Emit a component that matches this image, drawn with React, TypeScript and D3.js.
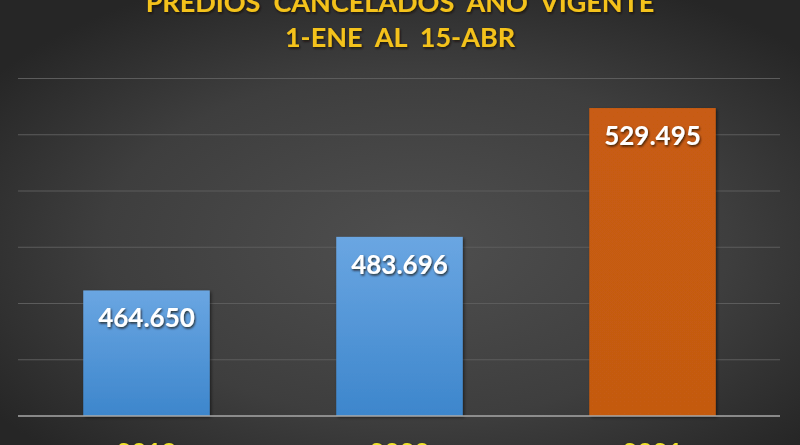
import React from "react";
import * as d3 from "d3";

const categories = ["2019", "2020", "2021"];
const values = [464650, 483696, 529495];
const barColors = ["blue", "blue", "orange"];
const yTicks = [420000, 440000, 460000, 480000, 500000, 520000, 540000];
const titleLines = ["PREDIOS  CANCELADOS  AÑO  VIGENTE", "1-ENE  AL  15-ABR"];

const W = 800;
const H = 445;

const locale = d3.formatLocale({ decimal: ",", thousands: ".", grouping: [3], currency: ["", ""] });
const fmt = locale.format(",d");

export default function App() {
  const x = d3.scaleBand<string>().domain(categories).range([20, 779]).paddingInner(0.5).paddingOuter(0.25);
  const y = d3.scaleLinear().domain([420000, 540000]).range([416, 78.5]);
  const font = "Lato, 'Open Sans', sans-serif";

  return (
    <svg width={W} height={H} style={{ position: "absolute", left: 0, top: 0, display: "block" }}>
      <defs>
        <radialGradient id="bg" cx="52%" cy="55%" r="65%">
          <stop offset="0%" stopColor="#4f4f4f" />
          <stop offset="60%" stopColor="#3e3e3e" />
          <stop offset="100%" stopColor="#262626" />
        </radialGradient>
        <linearGradient id="blue" x1="0" y1="0" x2="0" y2="1">
          <stop offset="0%" stopColor="#6aa6e2" />
          <stop offset="100%" stopColor="#3d86cc" />
        </linearGradient>
        <linearGradient id="orange" x1="0" y1="0" x2="0" y2="1">
          <stop offset="0%" stopColor="#c85c12" />
          <stop offset="100%" stopColor="#c45a11" />
        </linearGradient>
        <filter id="shadow" x="-10%" y="-10%" width="130%" height="130%">
          <feDropShadow dx="1.5" dy="1.5" stdDeviation="1.5" floodColor="#000" floodOpacity="0.5" />
        </filter>
        <filter id="tshadow" x="-10%" y="-30%" width="120%" height="160%">
          <feDropShadow dx="1" dy="1.5" stdDeviation="1" floodColor="#1a1000" floodOpacity="0.8" />
        </filter>
      </defs>
      <rect x={0} y={0} width={W} height={H} fill="url(#bg)" />
      {yTicks.slice(1).map((t) => (
        <line key={t} x1={18} x2={780} y1={y(t)} y2={y(t)} stroke="#5c5c5c" strokeWidth={1.2} />
      ))}
      {categories.map((c, i) => (
        <rect
          key={c}
          x={x(c)}
          y={y(values[i])}
          width={x.bandwidth()}
          height={y(yTicks[0]) - y(values[i])}
          fill={`url(#${barColors[i]})`}
          filter="url(#shadow)"
        />
      ))}
      <line x1={18} x2={780} y1={y(yTicks[0])} y2={y(yTicks[0])} stroke="#a8a8a8" strokeWidth={1.5} />
      {categories.map((c, i) => (
        <text
          key={c}
          x={(x(c) as number) + x.bandwidth() / 2}
          y={y(values[i]) + 37}
          textAnchor="middle"
          fontFamily={font}
          fontWeight="bold"
          fontSize={26}
          fill="#ffffff"
          filter="url(#tshadow)"
        >
          {fmt(values[i])}
        </text>
      ))}
      {categories.map((c) => (
        <text
          key={c}
          x={(x(c) as number) + x.bandwidth() / 2}
          y={462}
          textAnchor="middle"
          fontFamily={font}
          fontWeight="bold"
          fontSize={26}
          fill="#f2e52a"
          filter="url(#tshadow)"
        >
          {c}
        </text>
      ))}
      {titleLines.map((t, i) => (
        <text
          key={i}
          x={400}
          y={12 + i * 35}
          textAnchor="middle"
          fontFamily={font}
          fontWeight="bold"
          fontSize={27}
          fill="#f4c21a"
          style={{ whiteSpace: "pre" }}
          filter="url(#tshadow)"
        >
          {t}
        </text>
      ))}
    </svg>
  );
}
